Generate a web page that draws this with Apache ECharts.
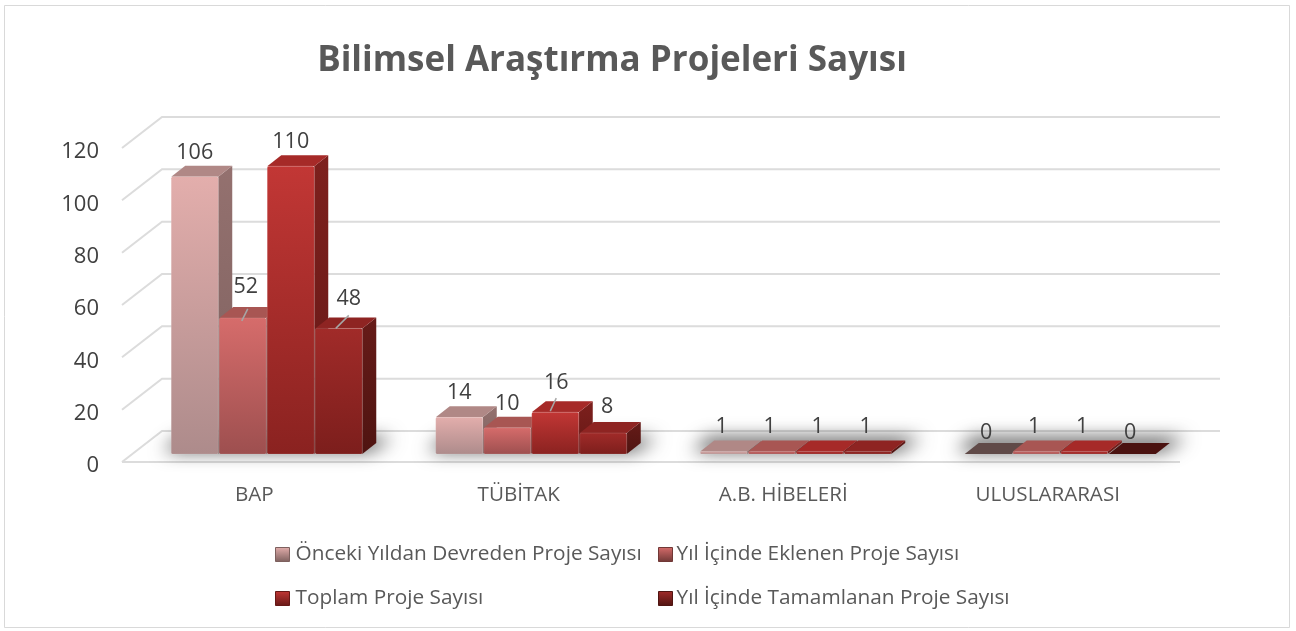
<!DOCTYPE html>
<html><head><meta charset="utf-8">
<style>html,body{margin:0;padding:0;background:#fff}#c{width:1296px;height:631px}</style>
<script src="https://cdn.jsdelivr.net/npm/echarts@6/dist/echarts.min.js"></script>
</head><body><div id="c"></div>
<script>
const categories = ['BAP', 'TÜBİTAK', 'A.B. HİBELERİ', 'ULUSLARARASI'];
const seriesNames = ['Önceki Yıldan Devreden Proje Sayısı', 'Yıl İçinde Eklenen Proje Sayısı', 'Toplam Proje Sayısı', 'Yıl İçinde Tamamlanan Proje Sayısı'];
const devreden = [106, 14, 1, 0];
const eklenen = [52, 10, 1, 1];
const toplam = [110, 16, 1, 1];
const tamamlanan = [48, 8, 1, 0];
const yTicks = [0, 20, 40, 60, 80, 100, 120];
const title = 'Bilimsel Araştırma Projeleri Sayısı';

const seriesValues = [devreden, eklenen, toplam, tamamlanan];
const FONT = '"Open Sans", sans-serif';
const palette = [
  {a:'#e3aeac', b:'#ad8b8b', top:'#b08886', side:'#94716f', side2:'#7d605e', zero:'#604a48', leg:'#dcaaa8'},
  {a:'#d66c6b', b:'#9d4f4f', top:'#a85653', side:'#8b4744', side2:'#703836', zero:'#a85653', leg:'#cf6463'},
  {a:'#c23735', b:'#8a2220', top:'#a62a28', side:'#7d201d', side2:'#661816', zero:'#a62a28', leg:'#c03432'},
  {a:'#a12b29', b:'#7c1e1c', top:'#8e2422', side:'#661b18', side2:'#4f1411', zero:'#4a1210', leg:'#9a2725'}
];
// projection of the 3D box onto the page
const WALL = [40, -31], PLANE = [13, -8], DEPTH = [14, -11];
const BAR_W_RATIO = 0.1815, START_RATIO = -0.363;
// label nudges for the ones pulled off the bars, with leader lines
const pulled = {'1-0':[3,-7], '3-0':[10,-6], '2-1':[1,-5], '3-1':[4,-2]};
const leaders = {'1-0':[[2,-9],[-4,3]], '3-0':[[0,-13],[-13,0]], '2-1':[[0,-14],[-6,-1]]};
const SHADOW_SHIFT = 3000;

function boxItem(sIdx){
  return function(params, api){
    const cat = api.value(0), v = api.value(1);
    const band = api.size([1,0])[0];
    const w = band*BAR_W_RATIO;
    const base = api.coord([cat, 0]), tip = api.coord([cat, v]);
    const x0 = base[0] + band*START_RATIO + PLANE[0] + sIdx*w;
    const x1 = x0 + w - 1;
    const yb = base[1] + PLANE[1], yt = tip[1] + PLANE[1];
    const c = palette[sIdx];
    const dx = DEPTH[0], dy = DEPTH[1];
    const grad = (t,b)=>new echarts.graphic.LinearGradient(0,0,0,1,[{offset:0,color:t},{offset:1,color:b}]);
    const kids = [
      {type:'polygon', shape:{points:[[x1,yb],[x1+dx,yb+dy],[x1+dx,yt+dy],[x1,yt]]}, style:{fill:grad(c.side,c.side2)}},
      {type:'polygon', shape:{points:[[x0,yt],[x1,yt],[x1+dx,yt+dy],[x0+dx,yt+dy]]}, style:{fill: v===0? c.zero : c.top}}
    ];
    if (v>0) kids.push({type:'rect', shape:{x:x0,y:yt,width:x1-x0,height:yb-yt,r:1.5}, style:{fill:grad(c.a,c.b), stroke:'rgba(255,255,255,0.12)', lineWidth:1}});
    const key = sIdx+'-'+cat;
    const n = pulled[key] || [0,0];
    const cx = (x0+x1)/2 + (v<=1 ? -2 : 0) + n[0];
    const ly = yt + (v===0 ? -21 : (v===1 ? -25 : -24)) + n[1];
    if (leaders[key]) {
      const L = leaders[key];
      kids.push({type:'line', shape:{x1:cx+L[0][0],y1:yt+L[0][1],x2:cx+L[1][0],y2:yt+L[1][1]}, style:{stroke:'#a6a6a6',lineWidth:1.5}, z2:20});
    }
    kids.push({type:'text', z2:30, style:{x:cx, y:ly, text:String(v), align:'center', verticalAlign:'middle', font:'21.5px '+FONT, fill:'#404040'}});
    return {type:'group', children:kids};
  };
}
function gridItem(params, api){
  const p = api.coord([0, api.value(0)]);
  const band = api.size([1,0])[0];
  const left = p[0]-band/2, right = left+band*4;
  const v = api.value(0);
  const kids = [
    {type:'polyline', shape:{points:[[left,p[1]],[left+WALL[0],p[1]+WALL[1]],[right+WALL[0],p[1]+WALL[1]]]}, style:{fill:null,stroke:'#dcdcdc',lineWidth:2}},
    {type:'text', style:{x:left-23, y:p[1]+4, text:String(v), align:'right', verticalAlign:'middle', font:'22px '+FONT, fill:'#404040'}}
  ];
  if (v===0) kids.push({type:'line', shape:{x1:left,y1:p[1],x2:right,y2:p[1]}, style:{stroke:'#dcdcdc',lineWidth:2}});
  return {type:'group', children:kids};
}
function floorItem(params, api){
  const p = api.coord([api.value(0), 0]);
  const band = api.size([1,0])[0];
  const x0 = p[0]+band*START_RATIO+PLANE[0]-SHADOW_SHIFT, w = band*BAR_W_RATIO*4, y = p[1]+PLANE[1];
  return {type:'polygon', shape:{points:[[x0-8,y-3],[x0+w+6,y-3],[x0+w+30,y-16],[x0+8,y-16]]},
    style:{fill:'#000', shadowBlur:18, shadowOffsetX:SHADOW_SHIFT, shadowColor:'rgb(70,70,70)'}};
}
const series = [
  {name:'grid', type:'custom', silent:true, renderItem:gridItem, data:yTicks.map(t=>[t]), z:1, encode:{y:0}, clip:false},
  {name:'floor', type:'custom', silent:true, renderItem:floorItem, data:categories.map((c,i)=>[i]), z:2, clip:false}
];
seriesNames.forEach((n,i)=>{
  series.push({name:n, type:'custom', renderItem:boxItem(i), z:3+i, clip:false,
    itemStyle:{color:palette[i].leg},
    data:seriesValues[i].map((v,j)=>[j,v]), encode:{x:0,y:1}});
});
const legPos = [[275,544],[658,544],[275,588],[658,588]];
const chart = echarts.init(document.getElementById('c'), null, {renderer:'canvas'});
chart.setOption({
  animation:false,
  backgroundColor:'#fff',
  title:{text:title, left:607, top:39, textAlign:'center', textStyle:{fontFamily:FONT, fontSize:35, fontWeight:700, color:'#595959'}},
  grid:{left:122, right:116, top:148, bottom:169, containLabel:false},
  xAxis:{type:'category', data:categories, axisTick:{show:false}, axisLine:{show:false}, splitLine:{show:false},
    axisLabel:{margin:23, fontFamily:FONT, fontSize:20.6, color:'#595959'}},
  yAxis:{type:'value', min:0, max:120, interval:20, axisLine:{show:false}, axisTick:{show:false}, splitLine:{show:false},
    axisLabel:{show:false}},
  legend:seriesNames.map((n,i)=>{
    const c = palette[i];
    return {data:[{name:n, icon:'rect'}], left:legPos[i][0], top:legPos[i][1], itemWidth:14, itemHeight:14, itemGap:6,
      selectedMode:false, padding:0,
      textStyle:{fontFamily:FONT, fontSize:20.8, color:'#595959', padding:[0,0,0,i%2?-1:1]},
      itemStyle:{color:new echarts.graphic.LinearGradient(0,0,0,1,[{offset:0,color:c.a},{offset:1,color:c.side2}]), borderColor:c.side2, borderWidth:1}};
  }),
  graphic:[{type:'rect', silent:true, shape:{x:4.5,y:5.5,width:1285,height:622}, style:{fill:'none',stroke:'#d9d9d9',lineWidth:1}}],
  series
});
</script></body></html>
